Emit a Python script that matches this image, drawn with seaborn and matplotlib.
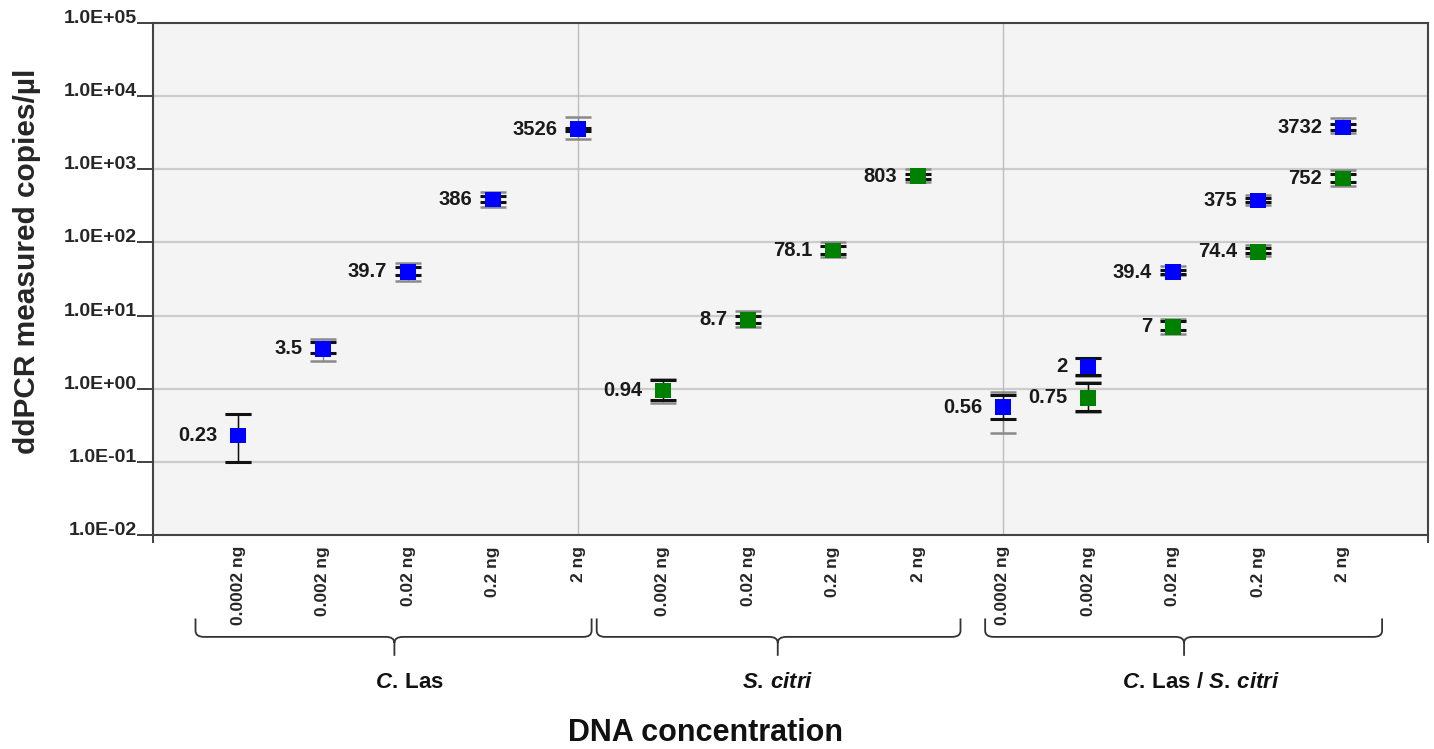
import numpy as np
import pandas as pd
import matplotlib
matplotlib.use("Agg")
import matplotlib.pyplot as plt
import seaborn as sns
from matplotlib import font_manager as fm
from matplotlib.path import Path
from matplotlib.patches import PathPatch
from matplotlib.transforms import blended_transform_factory

# ---------------- data ----------------
groups = ["C. Las", "S. citri", "C. Las / S. citri"]
group_labels = [r"$\mathit{C.\/}$Las",
                r"$\mathit{S.\/citri}$",
                r"$\mathit{C.\/}$Las / $\mathit{S.\/citri}$"]
conc_las = ["0.0002 ng", "0.002 ng", "0.02 ng", "0.2 ng", "2 ng"]
conc_citri = ["0.002 ng", "0.02 ng", "0.2 ng", "2 ng"]
conc_mix = ["0.0002 ng", "0.002 ng", "0.02 ng", "0.2 ng", "2 ng"]

# C. Las alone (blue)
las_val = [0.23, 3.5, 39.7, 386, 3526]
las_blo = [0.10, 3.1, 35.6, 355, 3350]
las_bhi = [0.45, 4.4, 45.7, 425, 3700]
las_glo = [0.10, 2.4, 29.5, 309, 2600]
las_ghi = [0.45, 4.8, 53.0, 492, 5180]

# S. citri alone (green)
cit_val = [0.94, 8.7, 78.1, 803]
cit_blo = [0.70, 7.8, 70, 740]
cit_bhi = [1.32, 9.9, 88, 870]
cit_glo = [0.63, 7.0, 64, 676]
cit_ghi = [1.37, 11.5, 100, 1016]

# mixture, C. Las target (blue)
mixl_val = [0.56, 2, 39.4, 375, 3732]
mixl_blo = [0.39, 1.55, 37, 361, 3400]
mixl_bhi = [0.83, 2.60, 42, 409, 4100]
mixl_glo = [0.25, 1.50, 35.6, 329, 3140]
mixl_ghi = [0.90, 2.65, 47, 450, 5000]

# mixture, S. citri target (green)
mixc_val = [0.75, 7, 74.4, 752]
mixc_blo = [0.50, 6.4, 72, 660]
mixc_bhi = [1.20, 8.5, 83, 850]
mixc_glo = [0.48, 5.6, 66, 597]
mixc_ghi = [1.25, 8.9, 91, 980]

target_colors = {"C. Las": "#0000FF", "S. citri": "#008000"}

# ---------------- fonts ----------------
names = {f.name for f in fm.fontManager.ttflist}
narrow = "Liberation Sans Narrow" if "Liberation Sans Narrow" in names else "Liberation Sans"
regular = "Liberation Sans"

sns.set_theme(style="white")
plt.rcParams["font.family"] = [regular, "DejaVu Sans"]
plt.rcParams["mathtext.fontset"] = "custom"
plt.rcParams["mathtext.it"] = f"{regular}:italic:bold"
plt.rcParams["mathtext.rm"] = f"{regular}:bold"
plt.rcParams["mathtext.bf"] = f"{regular}:bold"

# ---------------- build table ----------------
cats = [(g, c) for g, cl in zip(groups, [conc_las, conc_citri, conc_mix]) for c in cl]
tick_labels = [c for _, c in cats]

series = [
    ("C. Las", "C. Las", conc_las, las_val, las_blo, las_bhi, las_glo, las_ghi),
    ("S. citri", "S. citri", conc_citri, cit_val, cit_blo, cit_bhi, cit_glo, cit_ghi),
    ("C. Las / S. citri", "C. Las", conc_mix, mixl_val, mixl_blo, mixl_bhi, mixl_glo, mixl_ghi),
    ("C. Las / S. citri", "S. citri", conc_mix[1:], mixc_val, mixc_blo, mixc_bhi, mixc_glo, mixc_ghi),
]
rows = []
for g, t, concs, v, blo, bhi, glo, ghi in series:
    for i, c in enumerate(concs):
        rows.append(dict(group=g, target=t, conc=c, x=cats.index((g, c)),
                         value=v[i], blo=blo[i], bhi=bhi[i], glo=glo[i], ghi=ghi[i]))
df = pd.DataFrame(rows)

# ---------------- figure ----------------
fig = plt.figure(figsize=(14.34, 7.49), dpi=100)
ax = fig.add_axes([153 / 1434, 1 - 535 / 749, 1275 / 1434, 512 / 749])
ax.set_facecolor("#F4F4F4")
ax.set_yscale("log")
ax.set_ylim(1e-2, 1e5)
ax.set_xlim(-1.0, 14.0)

yt = 10.0 ** np.arange(-2, 6)
for y in yt[1:-1]:
    ax.axhline(y, color="#CCCCCC", lw=1.6, zorder=0)
for xv in [4, 9]:
    ax.axvline(xv, color="#BDBDBD", lw=1.0, zorder=0)

# error bars: grey (outer) then black (inner)
ax.errorbar(df["x"], df["value"],
            yerr=[df["value"] - df["glo"], df["ghi"] - df["value"]],
            fmt="none", ecolor="#8A8A8A", elinewidth=1.0, capsize=9.5, capthick=1.8, zorder=2)
ax.errorbar(df["x"], df["value"],
            yerr=[df["value"] - df["blo"], df["bhi"] - df["value"]],
            fmt="none", ecolor="#111111", elinewidth=1.0, capsize=9.5, capthick=2.2, zorder=3)

sns.scatterplot(data=df, x="x", y="value", hue="target", palette=target_colors,
                marker="s", s=125, edgecolor="none", legend=False, ax=ax, zorder=4)

for _, r in df.iterrows():
    ax.annotate(f"{r['value']:g}", (r["x"], r["value"]), xytext=(-15, 0),
                textcoords="offset points", ha="right", va="center",
                fontsize=14.5, fontweight="bold", family=narrow, color="#1A1A1A")

# axes styling
ax.set_yticks(yt)
ax.set_yticklabels([f"{v:.1E}" for v in yt])
ax.yaxis.set_minor_locator(matplotlib.ticker.NullLocator())
for lab in ax.get_yticklabels():
    lab.set_va("baseline")
    lab.set_fontweight("bold")
    lab.set_fontsize(14)
ax.tick_params(axis="y", which="major", direction="out", length=11.5, width=1.3,
               color="#333333", pad=0, left=True)

ax.set_xticks(range(len(cats)))
ax.set_xticklabels(tick_labels, rotation=90, fontsize=12.5, fontweight="bold")
ax.set_xticks([-1, 4, 9, 14], minor=True)
ax.tick_params(axis="x", which="major", length=0, pad=8)
ax.tick_params(axis="x", which="minor", direction="out", length=6, width=1.3,
               color="#333333", bottom=True)
ax.set_xlabel("")
ax.set_ylabel("ddPCR measured copies/µl", fontsize=21.5, fontweight="bold")
ax.yaxis.set_label_coords(-0.088, 0.535)

for s in ax.spines.values():
    s.set_color("#444444")
    s.set_linewidth(1.5)

# brackets beneath tick labels
tr = blended_transform_factory(ax.transData, ax.transAxes)
brackets = [(-0.50, 4.16, 1.84), (4.22, 8.50, 6.35), (8.79, 13.46, 11.13)]
label_x = [2.02, 6.35, 11.33]
yt_, yl_, yb_ = -0.163, -0.199, -0.236
dx, dy = 0.10, 0.012
for (x0, x1, xc), lx, gl in zip(brackets, label_x, group_labels):
    verts = [(x0, yt_), (x0, yl_ + dy), (x0, yl_), (x0 + dx, yl_),
             (xc - dx, yl_), (xc, yl_), (xc, yl_ - dy), (xc, yb_),
             (xc, yl_ - dy), (xc, yl_), (xc + dx, yl_),
             (x1 - dx, yl_), (x1, yl_), (x1, yl_ + dy), (x1, yt_)]
    codes = [Path.MOVETO, Path.LINETO, Path.CURVE3, Path.CURVE3,
             Path.LINETO, Path.CURVE3, Path.CURVE3, Path.LINETO,
             Path.MOVETO, Path.CURVE3, Path.CURVE3,
             Path.LINETO, Path.CURVE3, Path.CURVE3, Path.LINETO]
    patch = PathPatch(Path(verts, codes), transform=tr, fill=False,
                      edgecolor="#333333", lw=1.3, clip_on=False)
    ax.add_patch(patch)
    ax.text(lx, -0.289, gl, transform=tr, ha="center", va="center", fontsize=16,
            fontweight="bold", color="#111111")

fig.text(705 / 1434, 1 - 733 / 749, "DNA concentration", ha="center", va="center",
         fontsize=22, fontweight="bold", family=narrow, color="#111111")

fig.savefig("out.png", dpi=100, facecolor="white")
